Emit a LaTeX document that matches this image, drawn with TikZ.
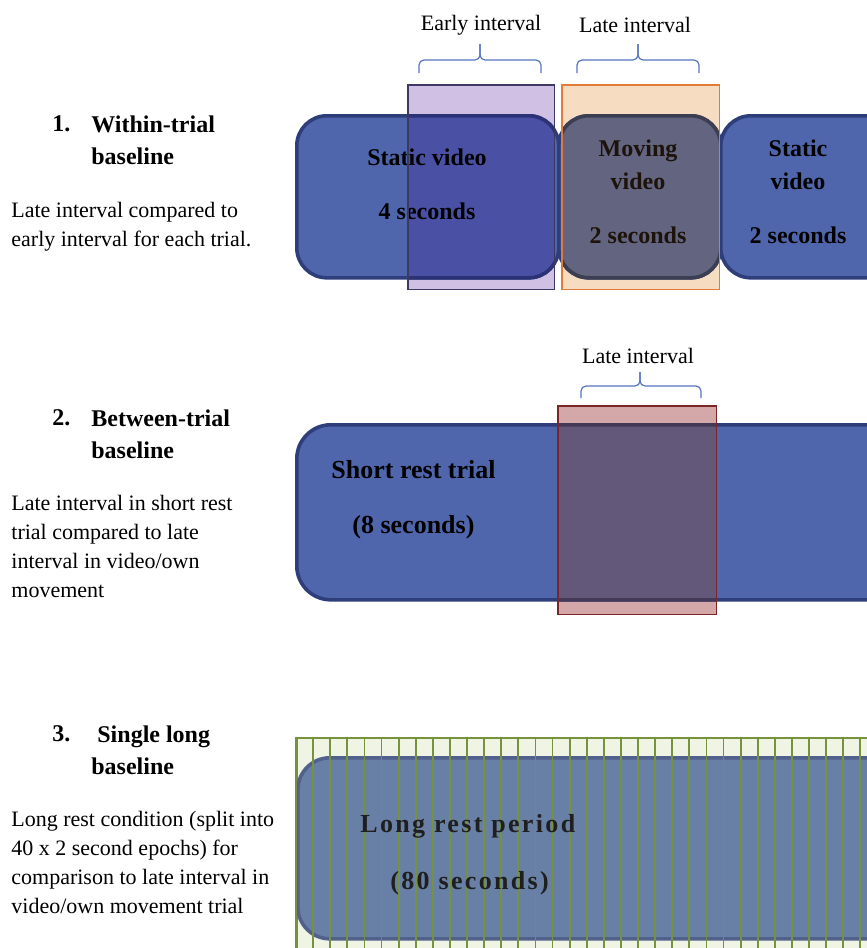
\documentclass[tikz,border=0pt]{standalone}
\usepackage{fontspec}
\setmainfont{Liberation Serif}
\usetikzlibrary{positioning,calc}

\definecolor{trialblue}{RGB}{80,102,172}
\definecolor{trialedge}{RGB}{46,62,122}
\definecolor{earlyfill}{RGB}{208,192,228}
\definecolor{earlyedge}{RGB}{62,56,100}
\definecolor{earlyover}{RGB}{74,80,164}
\definecolor{earlyoveredge}{RGB}{44,50,118}
\definecolor{latefill}{RGB}{246,220,192}
\definecolor{lateedge}{RGB}{226,122,56}
\definecolor{lateover}{RGB}{98,100,128}
\definecolor{lateoveredge}{RGB}{60,62,82}
\definecolor{restfill}{RGB}{212,168,168}
\definecolor{restedge}{RGB}{122,38,40}
\definecolor{restover}{RGB}{100,88,122}
\definecolor{restoveredge}{RGB}{68,58,88}
\definecolor{longblue}{RGB}{104,128,166}
\definecolor{longedge}{RGB}{82,96,140}
\definecolor{epochfill}{RGB}{240,244,228}
\definecolor{epochcol}{RGB}{118,146,60}
\definecolor{bracecol}{RGB}{84,116,192}

\tikzset{
  trialbox/.style={draw=trialedge, line width=1.8pt, fill=trialblue,
    rounded corners=15pt, inner sep=0pt, anchor=north west},
  intervalbox/.style={line width=0.8pt, inner sep=0pt, anchor=north west},
  intbrace/.style={draw=bracecol, semithick, rounded corners=2.5pt},
  intlabel/.style={font=\fontsize{11}{13}\selectfont},
  boxtext/.style={font=\bfseries\fontsize{12}{16.5}\selectfont, align=center, inner sep=0pt},
  bigtext/.style={font=\bfseries\fontsize{13}{16}\selectfont, inner sep=0pt, anchor=west},
  heading/.style={font=\bfseries\fontsize{12}{16}\selectfont, align=left,
    inner sep=0pt, anchor=north west},
  note/.style={font=\fontsize{11}{14.5}\selectfont, align=left,
    inner sep=0pt, anchor=north west}
}

\begin{document}
\begin{tikzpicture}[x=0.5pt, y=-0.5pt]
  \useasboundingbox (0,0) rectangle (867,948);
  \clip (0,0) rectangle (867,948);

  % 1. within-trial baseline
  \node (num1) [heading] at (52,115) {1.};
  \node (head1) [heading] at (91,115) {Within-trial\\baseline};
  \node (note1) [note] at (11,202) {Late interval compared to\\early interval for each trial.};

  \node (early) [intervalbox, fill=earlyfill,
    minimum width=72.5pt, minimum height=101.5pt] at (408,85) {};
  \node (late) [intervalbox, fill=latefill,
    minimum width=78pt, minimum height=101.5pt] at (562,85) {};

  \node (static1) [trialbox, minimum width=131pt, minimum height=81pt] at (295,114) {};
  \node (moving) [trialbox, minimum width=81pt, minimum height=81pt] at (557,114) {};
  \node (static2) [trialbox, minimum width=100pt, minimum height=81pt] at (719,114) {};

  \begin{scope}
    \clip (early.north west) rectangle (early.south east);
    \node (static1o) [trialbox, fill=earlyover, draw=earlyoveredge,
      minimum width=131pt, minimum height=81pt] at (295,114) {};
  \end{scope}
  \begin{scope}
    \clip (late.north west) rectangle (late.south east);
    \node (movingo) [trialbox, fill=lateover, draw=lateoveredge,
      minimum width=81pt, minimum height=81pt] at (557,114) {};
  \end{scope}

  \node (static1a) [boxtext] at (427,157) {Static video};
  \node (static1b) [boxtext] at (427,211) {4 seconds};
  \node (movinga) [boxtext, text=black!85!brown] at (638,165) {Moving\\video};
  \node (movingb) [boxtext, text=black!85!brown] at (638,235) {2 seconds};
  \node (static2a) [boxtext] at (798,165) {Static\\video};
  \node (static2b) [boxtext] at (798,235) {2 seconds};

  \draw[earlyedge, line width=0.8pt] (early.north west) rectangle (early.south east);
  \draw[lateedge, line width=0.8pt] (late.north west) rectangle (late.south east);

  \coordinate (e1) at (419,73);
  \coordinate (e2) at (541,73);
  \coordinate (etip) at (480,44);
  \coordinate (l1) at (577,73);
  \coordinate (l2) at (699,73);
  \coordinate (ltip) at (638,44);
  \draw[intbrace] (e1) |- ($(etip)+(0,16)$) -- (etip);
  \draw[intbrace] (e2) |- ($(etip)+(0,16)$) -- (etip);
  \draw[intbrace] (l1) |- ($(ltip)+(0,16)$) -- (ltip);
  \draw[intbrace] (l2) |- ($(ltip)+(0,16)$) -- (ltip);
  \node (earlylab) [intlabel] at (481,25) {Early interval};
  \node (latelab) [intlabel] at (635,25) {Late interval};

  % 2. between-trial baseline
  \node (num2) [heading] at (52,409) {2.};
  \node (head2) [heading] at (91,409) {Between-trial\\baseline};
  \node (note2) [note] at (11,495) {Late interval in short rest\\trial compared to late\\interval in video/own\\movement};

  \node (late2) [intervalbox, fill=restfill,
    minimum width=78.5pt, minimum height=103.5pt] at (558,406) {};
  \node (shortrest) [trialbox, minimum width=310pt, minimum height=87.5pt,
    rounded corners=17pt] at (295,423) {};
  \begin{scope}
    \clip (late2.north west) rectangle (late2.south east);
    \node (shortresto) [trialbox, fill=restover, draw=restoveredge,
      minimum width=310pt, minimum height=87.5pt, rounded corners=17pt] at (295,423) {};
  \end{scope}
  \draw[restedge, line width=0.8pt] (late2.north west) rectangle (late2.south east);
  \node (shorta) [bigtext] at (331,470) {Short rest trial};
  \node (shortb) [bigtext] at (352,527) {(8 seconds)};

  \coordinate (m1) at (581,398);
  \coordinate (m2) at (701,398);
  \coordinate (mtip) at (640,372);
  \draw[intbrace] (m1) |- ($(mtip)+(0,14)$) -- (mtip);
  \draw[intbrace] (m2) |- ($(mtip)+(0,14)$) -- (mtip);
  \node (latelab2) [intlabel] at (638,356) {Late interval};

  % 3. single long baseline
  \node (num3) [heading] at (52,725) {3.};
  \node (head3) [heading] at (91,725) {\hspace{3pt}Single long\\baseline};
  \node (note3) [note] at (11,811) {Long rest condition (split into\\40 x 2 second epochs) for\\comparison to late interval in\\video/own movement trial};

  \node (epochs) [intervalbox, draw=epochcol, fill=epochfill,
    minimum width=310pt, minimum height=120pt] at (296,737) {};
  \node (longrest) [trialbox, draw=longedge, fill=longblue,
    minimum width=310pt, minimum height=90.5pt, rounded corners=16pt] at (296,756) {};
  \foreach \i in {0,...,34}
    \draw[epochcol, line width=0.9pt] ({296+17.1*\i},737) -- ++(0,240);
  \node (longa) [bigtext, text=black!88,
    font=\bfseries\fontsize{13}{16}\selectfont\addfontfeature{LetterSpace=9}] at (360,826) {Long rest period};
  \node (longb) [bigtext, text=black!88,
    font=\bfseries\fontsize{13}{16}\selectfont\addfontfeature{LetterSpace=9}] at (390,883) {(80 seconds)};
\end{tikzpicture}
\end{document}
